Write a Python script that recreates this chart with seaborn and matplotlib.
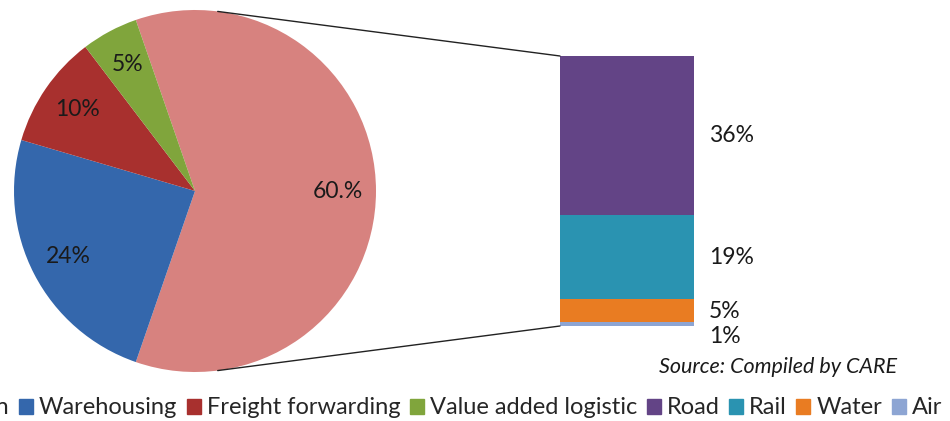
import numpy as np
import pandas as pd
import seaborn as sns
import matplotlib.pyplot as plt
from matplotlib.patches import Patch, ConnectionPatch

# pie data
pie_labels = ['Transportation', 'Warehousing', 'Freight forwarding', 'Value added logistic']
pie_values = [60, 24, 10, 5]
pie_texts = ['60.%', '24%', '10%', '5%']
pie_colors = ['#D7827F', '#3467AC', '#A8302E', '#80A53C']

# bar data (transportation split), bottom to top
bar_labels = ['Air', 'Water', 'Rail', 'Road']
bar_values = [1, 5, 19, 36]
bar_texts = ['1%', '5%', '19%', '36%']
bar_colors = ['#8DA5D3', '#E97C22', '#2A93B1', '#634486']

sns.set_theme(style='white')
plt.rcParams['font.family'] = ['Lato', 'DejaVu Sans']

fig = plt.figure(figsize=(9.5, 4.21), dpi=100)

# 饼图
ax_pie = fig.add_axes([14 / 950, 49 / 421, 362 / 950, 362 / 421])
start = 180 * pie_values[0] / sum(pie_values)
wedges, texts = ax_pie.pie(pie_values, colors=pie_colors, labels=pie_texts,
                           startangle=start, counterclock=False,
                           labeldistance=0.79, radius=1,
                           wedgeprops=dict(linewidth=0),
                           textprops=dict(ha='center', va='center', fontsize=16.5, color='#1a1a1a'))
ax_pie.set_xlim(-1, 1)
ax_pie.set_ylim(-1, 1)
ax_pie.set_aspect('equal')
ax_pie.axis('off')

# 堆叠柱
ax_bar = fig.add_axes([560 / 950, 95 / 421, 134 / 950, 270 / 421])
cum = np.cumsum(bar_values)
for i in range(len(bar_values) - 1, -1, -1):
    df = pd.DataFrame({'g': ['T'], 'v': [cum[i]]})
    sns.barplot(data=df, x='g', y='v', color=bar_colors[i], width=0.8,
                saturation=1, linewidth=0, ax=ax_bar)
ax_bar.set_xlim(-0.4, 0.4)
ax_bar.set_ylim(0, cum[-1])
ax_bar.axis('off')

offsets = [-2.8, -0.3, 0, 0]
for i, t in enumerate(bar_texts):
    mid = cum[i] - bar_values[i] / 2 + offsets[i]
    ax_bar.text(1.11, mid, t, transform=ax_bar.get_yaxis_transform(),
                ha='left', va='center', fontsize=16.5, color='#1a1a1a')

# 连接线
ang = np.deg2rad(82.8)
for y_end, sgn in [(cum[-1], 1), (0, -1)]:
    con = ConnectionPatch(xyA=(np.cos(ang), sgn * np.sin(ang)), coordsA=ax_pie.transData,
                          xyB=(-0.4, y_end), coordsB=ax_bar.transData,
                          color='#222222', linewidth=1)
    fig.add_artist(con)

fig.text(897 / 950, 54 / 421, 'Source: Compiled by CARE', ha='right', va='center',
         fontsize=15.5, style='italic', color='#1a1a1a')

# legend runs off the left edge, like the source image
handles = [Patch(color=c) for c in pie_colors] + [Patch(color=c) for c in bar_colors[::-1]]
labels = pie_labels + bar_labels[::-1]
fig.legend(handles, labels, loc='center right', bbox_to_anchor=(942 / 950, 13 / 421),
           ncol=8, frameon=False, fontsize=17, handlelength=0.6, handleheight=0.6,
           handletextpad=0.25, columnspacing=0.4, borderaxespad=0, borderpad=0)

fig.savefig('out.png', dpi=100)
